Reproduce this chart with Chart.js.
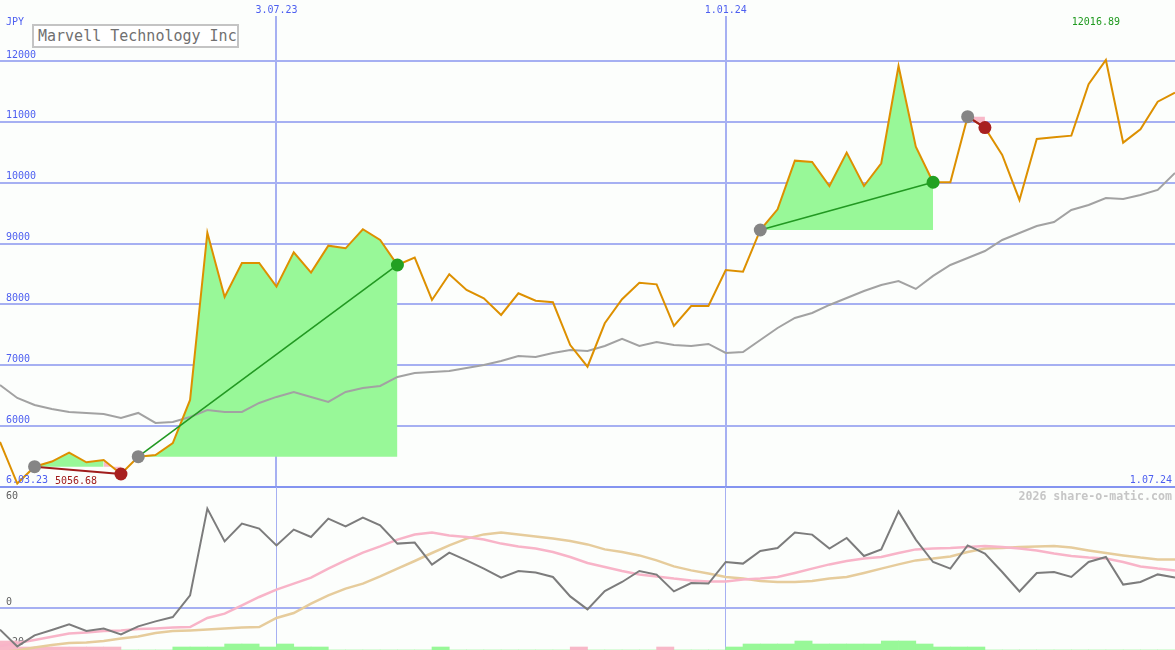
<!DOCTYPE html>
<html>
<head>
<meta charset="utf-8">
<script src="https://cdn.jsdelivr.net/npm/chart.js@4.4.0/dist/chart.umd.min.js"></script>
<style>
  body { margin: 0; background: #fcfefc; }
  #wrap { position: relative; width: 1175px; height: 650px; overflow: hidden; font-family: "DejaVu Sans Mono", monospace; }
  #priceChart { position: absolute; left: 0; top: 0; }
  #oscChart { position: absolute; left: 0; top: 487px; }
  .lbl { position: absolute; font-size: 10px; line-height: 10px; color: #4d5ff0; white-space: nowrap; }
  #title { position: absolute; left: 32px; top: 24px; width: 199px; height: 20px; padding-left: 4px; border: 2px solid #c4c4c4; background: #fff; color: #707070; font-size: 15px; line-height: 20px; white-space: nowrap; }
  #brand { position: absolute; right: 3px; top: 490px; font-size: 11.6px; line-height: 12px; font-weight: bold; color: #c6c6c6; white-space: nowrap; }
</style>
</head>
<body>
<div id="wrap">
  <canvas id="priceChart" width="1175" height="489"></canvas>
  <canvas id="oscChart" width="1175" height="163"></canvas>
  <div class="lbl" style="left:6px;top:17px">JPY</div>
  <div id="title">Marvell Technology Inc</div>
  <div class="lbl" style="left:6px;top:475px">6.03.23</div>
  <div class="lbl" style="right:3px;top:475px">1.07.24</div>
  <div id="brand">2026 share-o-matic.com</div>
</div>
<script>
// weekly closes, first point is week of 13.03.23
const firstWeek = "2023-03-13";
const closes = [
  5740, 5056.68, 5334, 5418, 5564, 5406, 5444, 5214, 5498, 5526,
  5723, 6430, 9179, 8122, 8681, 8681, 8292, 8857, 8522, 8965,
  8922, 9235, 9059, 8648, 8768, 8073, 8495, 8237, 8101, 7827,
  8183, 8061, 8035, 7333, 6977, 7690, 8085, 8357, 8330, 7646,
  7974, 7974, 8566, 8538, 9223, 9563, 10362, 10341, 9946, 10494,
  9946, 10319, 11918, 10592, 10007, 10007, 11085, 10905, 10455, 9716,
  10718, 10746, 10773, 11617, 12016.89, 10658, 10878, 11331, 11479
];
const longAverage = [
  6676, 6463, 6348, 6282, 6233, 6217, 6200, 6134, 6217, 6052,
  6069, 6151, 6266, 6233, 6233, 6381, 6480, 6562, 6480, 6397,
  6562, 6627, 6660, 6808, 6874, 6890, 6907, 6956, 7005, 7071,
  7153, 7137, 7202, 7252, 7235, 7317, 7433, 7317, 7383, 7334,
  7317, 7350, 7202, 7219, 7416, 7613, 7778, 7860, 7991, 8106,
  8221, 8320, 8385, 8254, 8468, 8648, 8763, 8878, 9059, 9174,
  9289, 9355, 9552, 9634, 9749, 9733, 9798, 9881, 10160
];
// buy / sell signals (week index)
const tradeEntry = [2, 8, 44, 56];
const tradeExit = [7, 23, 54, 57];

// lower panel
const momentum = [
  -10.8, -19.2, -13.7, -11, -8.2, -11.5, -10.3, -13.2, -9.2, -6.7,
  -4.5, 6.3, 49.7, 33.3, 42.2, 39.7, 31.3, 39.2, 35.5, 44.7,
  40.8, 45.2, 41.3, 32.2, 32.7, 21.7, 27.7, 23.8, 19.7, 15.2,
  18.5, 17.7, 15.5, 5.8, -0.7, 8.5, 13, 18.5, 16.7, 8.3,
  12.5, 12.2, 23, 22.2, 28.5, 30, 37.7, 36.7, 29.7, 35,
  26, 29.3, 48.3, 34.2, 23, 19.7, 31.3, 27.2, 18, 8.3,
  17.5, 18, 15.5, 23, 25.5, 11.7, 13, 16.8, 15.2
];
const fastSignal = [
  -19, -17.5, -16, -14.4, -12.8, -12.2, -11.5, -11.2, -10.5, -10.2,
  -9.8, -9.5, -5, -2.8, 1.3, 5.5, 9.2, 12.2, 15.2, 19.7,
  23.8, 27.7, 30.8, 34.2, 36.7, 37.7, 36.3, 35.5, 34.2, 32.2,
  30.8, 29.7, 28, 25.5, 22.5, 20.5, 18.5, 16.8, 15.8, 14.7,
  13.8, 13.3, 13.3, 14.2, 14.7, 15.5, 17.5, 19.7, 21.8, 23.5,
  24.7, 25.5, 27.5, 29.3, 29.7, 30, 30.5, 31, 30.5, 29.7,
  28.8, 27.2, 26, 25.2, 24.7, 23, 20.8, 19.7, 18.8
];
const slowSignal = [
  -22, -21.2, -19.8, -18.5, -17.5, -17.2, -16.5, -15.3, -14.2, -12.5,
  -11.5, -11.2, -10.8, -10.3, -9.8, -9.5, -5, -2.5, 2.2, 6.3,
  9.7, 12.2, 15.8, 19.7, 23.5, 27.5, 31.3, 34.7, 36.8, 37.7,
  36.8, 35.8, 34.7, 33.5, 31.8, 29.3, 28, 26.3, 23.8, 20.8,
  18.8, 17.2, 15.5, 14.7, 13.5, 13, 13, 13.5, 14.7, 15.5,
  17.5, 19.7, 21.8, 23.8, 24.7, 25.8, 28, 29.7, 30, 30.5,
  30.8, 31, 30.2, 28.8, 27.5, 26.3, 25.2, 24.3, 24.2
];
// strength bars between weeks, sign = colour (+ green, - pink)
const strengthBars = [
  -3, -1, -1, -1, -1, -1, -1, 0, 0, 0,
  1, 1, 1, 2, 2, 1, 2, 1, 1, 0,
  0, 0, 0, 0, 0, 1, 0, 0, 0, 0,
  0, 0, 0, -1, 0, 0, 0, 0, -1, 0,
  0, 0, 1, 2, 2, 2, 3, 2, 2, 2,
  2, 3, 3, 2, 1, 1, 1, 0, 0, 0,
  0, 0, 0, 0, 0, 0, 0, 0
];

const dateTicks = ["2023-07-03", "2024-01-01"];
const dateLabels = ["3.07.23", "1.01.24"];
const priceTicks = [5000, 6000, 7000, 8000, 9000, 10000, 11000, 12000];
const oscTicks = [-20, 0];
const oscTopTick = [60];

const GRID = "#a6b0f2";
const BORDER = "#8494f0";
const BLUE = "#4d5ff0";
const GREEN_FILL = "#98f898";
const PINK_FILL = "#f8b8c8";
const monoFont = { family: "DejaVu Sans Mono", size: 10 };

const weekIndex = (d) => (new Date(d) - new Date(firstWeek)) / (7 * 86400000);
const lastIdx = closes.length - 1;

function xTicks(axis) {
  axis.ticks = dateTicks.map((d) => ({ value: weekIndex(d) }));
}
// axes sit on the plot edge, no extra room for labels
function noPad(s) {
  s.paddingLeft = s.paddingRight = s.paddingTop = s.paddingBottom = 0;
}

// high / low value labels
const extremaLabels = {
  id: "extremaLabels",
  afterDatasetsDraw(chart) {
    const { ctx, chartArea, scales } = chart;
    const hi = Math.max(...closes);
    const lo = Math.min(...closes);
    ctx.save();
    ctx.font = '10px "DejaVu Sans Mono"';
    ctx.fillStyle = "#1f9a1f";
    ctx.textAlign = "center";
    ctx.fillText(hi.toFixed(2), scales.x.getPixelForValue(closes.indexOf(hi)) - 10, 25);
    ctx.fillStyle = "#a01c1c";
    ctx.textAlign = "left";
    ctx.fillText(lo.toFixed(2), 55, chartArea.bottom - 3);
    ctx.restore();
  }
};

const tradeSets = [];
const fillSets = [];
tradeEntry.forEach((e, k) => {
  const x = tradeExit[k];
  const win = closes[x] > closes[e];
  tradeSets.push({
    data: [{ x: e, y: closes[e] }, { x: x, y: closes[x] }],
    borderColor: win ? "#229922" : "#a01c1c",
    borderWidth: win ? 1.6 : 2,
    pointRadius: 6.5,
    pointBorderWidth: 0,
    pointBackgroundColor: ["#858585", win ? "#22a022" : "#a82020"]
  });
  const base = closes[e];
  const pts = [];
  for (let i = e; i <= x; i++) pts.push({ x: i, y: closes[i] });
  fillSets.push({
    data: pts,
    borderWidth: 0,
    pointRadius: 0,
    backgroundColor: GREEN_FILL,
    fill: { value: base },
    segment: {
      backgroundColor: (ctx) => (ctx.p1.parsed.y >= base ? GREEN_FILL : PINK_FILL)
    }
  });
});

new Chart(document.getElementById("priceChart"), {
  type: "line",
  data: {
    datasets: [
      ...tradeSets,
      {
        data: closes.map((v, i) => ({ x: i, y: v })),
        borderColor: "#dd9000",
        borderWidth: 2,
        pointRadius: 0
      },
      {
        data: longAverage.map((v, i) => ({ x: i, y: v })),
        borderColor: "#a2a2a2",
        borderWidth: 2,
        pointRadius: 0
      },
      ...fillSets
    ]
  },
  options: {
    responsive: false,
    animation: false,
    events: [],
    layout: { autoPadding: false, padding: { bottom: 2 } },
    plugins: { legend: { display: false }, tooltip: { enabled: false } },
    scales: {
      x: {
        type: "linear",
        position: "top",
        min: 0,
        max: lastIdx,
        offset: false,
        afterBuildTicks: xTicks,
        afterFit: (s) => { s.height = 16; noPad(s); },
        border: { display: false },
        grid: { color: GRID, lineWidth: 2, drawTicks: false, offset: false },
        ticks: {
          autoSkip: false,
          padding: 0,
          color: BLUE,
          font: monoFont,
          maxRotation: 0,
          callback: (v, i) => dateLabels[i]
        }
      },
      y: {
        min: 5000,
        max: 12739,
        afterBuildTicks: (axis) => { axis.ticks = priceTicks.map((v) => ({ value: v })); },
        afterFit: (s) => { s.width = 0; noPad(s); },
        border: { display: false },
        grid: {
          lineWidth: 2,
          drawTicks: false,
          color: (ctx) => (ctx.tick && ctx.tick.value === priceTicks[0] ? BORDER : GRID)
        },
        ticks: {
          mirror: true,
          padding: 6,
          labelOffset: -6,
          autoSkip: false,
          color: BLUE,
          font: monoFont,
          callback: (v) => (v === priceTicks[0] ? "" : v)
        }
      }
    }
  },
  plugins: [extremaLabels]
});

new Chart(document.getElementById("oscChart"), {
  type: "line",
  data: {
    datasets: [
      {
        data: momentum.map((v, i) => ({ x: i, y: v })),
        borderColor: "#7c7c7c",
        borderWidth: 2,
        pointRadius: 0
      },
      {
        data: fastSignal.map((v, i) => ({ x: i, y: v })),
        borderColor: "#f8b4c8",
        borderWidth: 2.5,
        pointRadius: 0
      },
      {
        data: slowSignal.map((v, i) => ({ x: i, y: v })),
        borderColor: "#e6cc9c",
        borderWidth: 2.5,
        pointRadius: 0
      },
      {
        type: "bar",
        yAxisID: "yb",
        data: strengthBars.map((v, i) => ({ x: i + 0.5, y: Math.abs(v) })),
        backgroundColor: strengthBars.map((v) => (v < 0 ? PINK_FILL : GREEN_FILL)),
        barPercentage: 1,
        categoryPercentage: 1,
        borderWidth: 0
      }
    ]
  },
  options: {
    responsive: false,
    animation: false,
    events: [],
    layout: { autoPadding: false },
    plugins: { legend: { display: false }, tooltip: { enabled: false } },
    scales: {
      x: {
        type: "linear",
        position: "bottom",
        min: 0,
        max: lastIdx,
        offset: false,
        afterBuildTicks: xTicks,
        afterFit: (s) => { s.height = 0; noPad(s); },
        border: { display: false },
        grid: { color: GRID, lineWidth: 1, drawTicks: false, offset: false },
        ticks: { display: false }
      },
      y: {
        z: 1,
        min: -21,
        max: 60.5,
        afterBuildTicks: (axis) => { axis.ticks = oscTicks.map((v) => ({ value: v })); },
        afterFit: (s) => { s.width = 0; noPad(s); },
        border: { display: false },
        grid: {
          lineWidth: 2,
          drawTicks: false,
          color: (ctx) => (ctx.tick && ctx.tick.value === 0 ? GRID : "rgba(0,0,0,0)")
        },
        ticks: { mirror: true, padding: 6, labelOffset: -6, color: "#606060", font: monoFont }
      },
      y60: {
        position: "left",
        min: -21,
        max: 60.5,
        afterBuildTicks: (axis) => { axis.ticks = oscTopTick.map((v) => ({ value: v })); },
        afterFit: (s) => { s.width = 0; noPad(s); },
        border: { display: false },
        grid: { display: false, drawTicks: false },
        ticks: { mirror: true, padding: 6, labelOffset: 8, color: "#606060", font: monoFont }
      },
      yb: {
        display: false,
        beginAtZero: false,
        min: 0,
        max: 163 / 3
      }
    }
  }
});
</script>
</body>
</html>
